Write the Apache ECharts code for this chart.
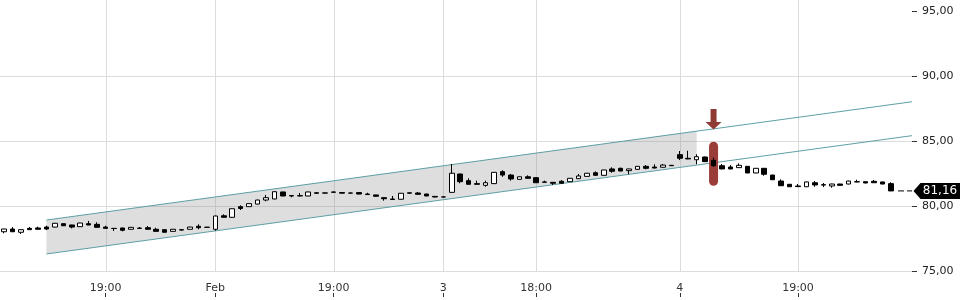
<!DOCTYPE html>
<html><head><meta charset="utf-8">
<script src="https://cdn.jsdelivr.net/npm/echarts@6/dist/echarts.min.js"></script>
<style>html,body{margin:0;padding:0;background:#fff}#c{width:960px;height:300px}</style>
</head><body><div id="c"></div>
<script>
const opens = [78.02,78.23,77.98,78.28,78.31,78.38,78.38,78.64,78.54,78.41,78.64,78.59,78.38,78.28,78.31,78.21,78.30,78.33,78.21,78.18,
78.05,78.18,78.21,78.44,78.37,78.21,79.25,79.13,79.95,79.95,80.15,80.46,80.54,81.08,80.80,80.77,80.77,81.02,80.99,81.05,
81.03,80.99,81.03,80.92,80.85,80.64,80.54,80.52,80.98,81.00,80.92,80.74,80.69,81.05,82.46,81.95,81.72,81.59,81.72,82.64,
82.38,82.05,82.25,82.18,81.85,81.82,81.90,81.87,82.10,82.28,82.56,82.36,82.85,82.90,82.72,82.82,83.05,83.00,82.98,83.13,
83.95,83.67,83.56,83.77,83.52,83.10,83.00,82.95,83.05,82.54,82.90,82.38,81.92,81.67,81.54,81.48,81.79,81.64,81.54,81.69,
81.69,81.87,81.87,81.90,81.85,81.72];
const closes = [78.23,78.02,78.18,78.18,78.21,78.23,78.67,78.48,78.38,78.69,78.54,78.36,78.28,78.27,78.13,78.36,78.28,78.21,78.05,77.98,
78.21,78.15,78.38,78.33,78.36,79.23,79.13,79.79,79.81,80.18,80.46,80.64,81.10,80.77,80.77,80.80,81.08,80.98,81.01,81.08,
80.99,81.00,80.92,80.88,80.75,80.56,80.50,80.98,81.02,80.90,80.77,80.69,80.70,82.52,81.87,81.67,81.67,81.79,82.59,82.38,
82.08,82.25,82.13,81.79,81.83,81.75,81.75,82.13,82.31,82.52,82.36,82.77,82.67,82.69,82.85,83.05,82.90,82.92,83.15,83.10,
83.67,83.62,83.79,83.41,83.10,82.85,82.85,83.13,82.54,82.90,82.44,82.02,81.56,81.48,81.49,81.85,81.62,81.61,81.69,81.59,
81.92,81.85,81.77,81.79,81.69,81.16];
const lows = [77.90,78.00,77.85,78.16,78.19,78.15,78.36,78.46,78.28,78.39,78.52,78.34,78.26,78.08,78.05,78.19,78.27,78.20,78.03,77.96,
78.03,78.10,78.19,78.21,78.33,78.10,79.11,79.11,79.69,79.93,80.13,80.36,80.52,80.75,80.67,80.75,80.75,80.96,80.97,81.03,
80.97,80.97,80.90,80.87,80.72,80.41,80.49,80.50,80.95,80.88,80.75,80.67,80.67,81.02,81.75,81.64,81.65,81.48,81.70,82.25,
81.95,82.03,82.11,81.77,81.82,81.62,81.73,81.85,82.08,82.26,82.34,82.34,82.56,82.67,82.44,82.80,82.82,82.90,82.96,83.08,
83.54,83.60,83.21,83.38,83.00,82.83,82.83,82.93,82.52,82.52,82.33,82.00,81.54,81.46,81.47,81.46,81.48,81.46,81.41,81.57,
81.67,81.83,81.75,81.77,81.67,81.14];
const highs = [78.25,78.38,78.19,78.38,78.41,78.48,78.70,78.66,78.56,78.71,78.85,78.75,78.48,78.29,78.33,78.38,78.38,78.46,78.33,78.20,
78.23,78.20,78.40,78.59,78.38,79.25,79.36,79.81,80.05,80.20,80.48,80.85,81.12,81.10,80.82,81.00,81.10,81.04,81.03,81.12,
81.05,81.03,81.05,81.02,80.87,80.66,80.77,81.00,81.04,81.08,80.94,80.76,80.72,83.23,82.49,82.13,81.95,81.95,82.61,82.75,
82.46,82.27,82.36,82.20,81.95,81.84,81.98,82.15,82.46,82.54,82.67,82.79,82.98,82.95,82.87,83.07,83.15,83.21,83.23,83.15,
84.23,84.25,83.98,83.80,83.72,83.23,83.15,83.28,83.07,82.92,82.92,82.40,82.05,81.69,81.69,81.87,81.92,81.77,81.71,81.71,
81.94,82.02,81.89,82.00,81.87,81.82];

const categoryCount = 108;
const categories = Array.from({length: categoryCount}, (_, i) => String(i));
const tickIndex = [12, 25, 39, 52, 63, 80, 94];
const tickLabels = ['19:00', 'Feb', '19:00', '3', '18:00', '4', '19:00'];
const yTicks = [75, 80, 85, 90, 95];

const channelX = [5, 107.5];
const upperLine = [78.92, 88.02];
const lowerLine = [76.31, 85.41];
const fillX = [5, 82];
const fillUpper = [78.92, 85.76];
const fillLower = [76.31, 83.15];

const signalIndex = [84];
const arrowPrice = [86.67];
const pillPrice = [83.25];
const lastPrice = 81.16;

const candleData = opens.map((o, i) => [o, closes[i], lows[i], highs[i]]);
const isTick = (i) => tickIndex.indexOf(i) >= 0;
const FONT = 'DejaVu Sans';

const chart = echarts.init(document.getElementById('c'), null, {renderer: 'canvas'});
chart.setOption({
  animation: false,
  backgroundColor: '#fff',
  grid: {left: 0, right: 48, top: 0, bottom: 29, containLabel: false},
  xAxis: [{
    type: 'category', data: categories, boundaryGap: true, position: 'bottom', offset: 22,
    axisLine: {show: false, onZero: false},
    axisTick: {show: true, alignWithLabel: true, interval: (i) => isTick(i), length: 4, lineStyle: {color: '#333'}},
    axisLabel: {inside: true, margin: -1, interval: (i) => isTick(i),
      formatter: (v, i) => { const k = tickIndex.indexOf(Number(v)); return k >= 0 ? tickLabels[k] : ''; },
      fontSize: 11, fontFamily: FONT, color: '#333'},
    splitLine: {show: false}
  }, {
    type: 'value', min: -0.5, max: categoryCount - 0.5, show: false, axisLine: {onZero: false}
  }],
  yAxis: {
    type: 'value', position: 'right', min: 75, max: 75 + 271 / 13, interval: 5,
    axisLine: {show: false, onZero: false},
    axisTick: {show: true, length: 5, customValues: yTicks, lineStyle: {color: '#333'}},
    axisLabel: {customValues: yTicks, margin: 10, fontSize: 11, fontFamily: FONT, color: '#222',
      formatter: (v) => v.toFixed(2).replace('.', ',')},
    splitLine: {show: true, showMaxLine: false, lineStyle: {color: '#dcdcdc', width: 1}}
  },
  series: [
    {
      type: 'custom', name: 'vgrid', xAxisIndex: 0, silent: true, z: 0,
      data: tickIndex.map(i => [i, 80]), encode: {x: 0, y: 1},
      renderItem: (params, api) => {
        const x = Math.round(api.coord([api.value(0), 80])[0]) + 0.5;
        const cs = params.coordSys;
        return {type: 'line', shape: {x1: x, y1: cs.y, x2: x, y2: cs.y + cs.height},
          style: {stroke: '#dcdcdc', lineWidth: 1}};
      }
    },
    {
      type: 'custom', name: 'fill', xAxisIndex: 1, silent: true, z: 1,
      data: [[fillX[0], fillLower[0], fillUpper[0], fillX[1], fillLower[1], fillUpper[1]]],
      encode: {x: [0, 3], y: [1, 2, 4, 5]},
      renderItem: (params, api) => {
        const p1 = api.coord([api.value(0), api.value(2)]);
        const p2 = api.coord([api.value(3), api.value(5)]);
        const p3 = api.coord([api.value(3), api.value(4)]);
        const p4 = api.coord([api.value(0), api.value(1)]);
        return {type: 'polygon', shape: {points: [p1, p2, p3, p4]},
          style: {fill: 'rgba(128,128,128,0.26)'}};
      }
    },
    {
      type: 'line', name: 'upper', xAxisIndex: 1, symbol: 'none', silent: true, z: 2,
      data: channelX.map((x, i) => [x, upperLine[i]]),
      lineStyle: {color: '#5e9fa6', width: 1}
    },
    {
      type: 'line', name: 'lower', xAxisIndex: 1, symbol: 'none', silent: true, z: 2,
      data: channelX.map((x, i) => [x, lowerLine[i]]),
      lineStyle: {color: '#5e9fa6', width: 1}
    },
    {
      type: 'scatter', name: 'pill', xAxisIndex: 0, silent: true, z: 3,
      data: signalIndex.map((x, i) => [x, pillPrice[i]]),
      symbol: 'path://M0,4.5 A4.5,4.5 0 0 1 9,4.5 L9,39.5 A4.5,4.5 0 0 1 0,39.5 Z',
      symbolSize: [9, 44],
      itemStyle: {color: '#9a3d39', opacity: 1}
    },
    {
      type: 'candlestick', name: 'price', xAxisIndex: 0, z: 4, barWidth: 5,
      data: candleData,
      itemStyle: {color: '#ffffff', color0: '#000000', borderColor: '#000000', borderColor0: '#000000', borderWidth: 1}
    },
    {
      type: 'scatter', name: 'arrow', xAxisIndex: 0, silent: true, z: 5,
      data: signalIndex.map((x, i) => [x, arrowPrice[i]]),
      symbol: 'path://M5,0 L11,0 L11,13 L16,13 L8,20.5 L0,13 L5,13 Z',
      symbolSize: [16, 20.5],
      itemStyle: {color: '#8f3a35', opacity: 1}
    },
    {
      type: 'line', name: 'last', xAxisIndex: 1, symbol: 'none', silent: true, z: 5,
      data: [[opens.length - 1 + 0.85, lastPrice], [categoryCount - 0.5, lastPrice]],
      lineStyle: {color: '#000', width: 1, type: [6, 3]}
    },
    {
      type: 'scatter', name: 'tag', xAxisIndex: 1, silent: true, z: 6, clip: false,
      data: [[categoryCount - 0.5, lastPrice]],
      symbol: 'path://M0,8 L7,0 L47,0 L47,16 L7,16 Z',
      symbolSize: [47, 16], symbolOffset: [25, 0],
      itemStyle: {color: '#000', opacity: 1},
      label: {show: true, position: 'inside', offset: [3, 0], color: '#fff', fontSize: 12, fontFamily: FONT,
        formatter: () => lastPrice.toFixed(2).replace('.', ',')}
    }
  ]
});
</script></body></html>
